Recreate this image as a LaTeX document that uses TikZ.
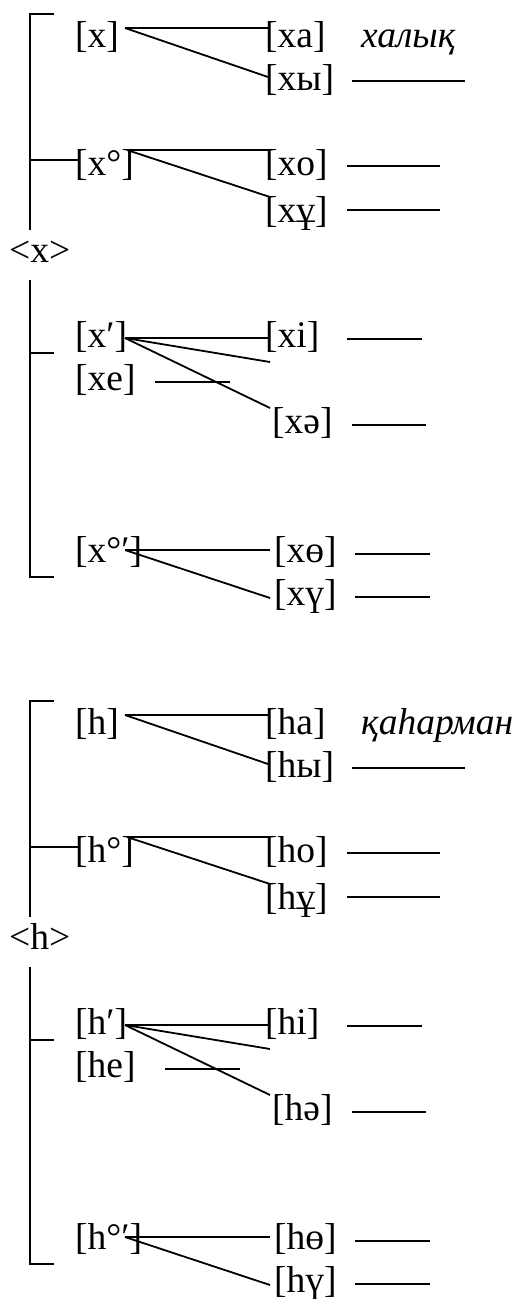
\documentclass[tikz,border=0pt]{standalone}
\usepackage{fontspec}
\setmainfont{Liberation Serif}
\usetikzlibrary{calc}
\tikzset{
  lab/.style={anchor=base west,inner sep=0pt,font=\fontsize{37.5}{44}\selectfont},
  wrd/.style={anchor=base west,inner sep=0pt,font=\fontsize{37.5}{44}\selectfont\itshape},
  ln/.style={line width=1.8pt},
  blank/.style={line width=1.8pt}
}
% #1 name prefix, #2 consonant, #3 word, #4 x of the line after [.e]
\newcommand\mkhalf[4]{%
  % bracket
  \draw[ln] (54,14) -- (30,14) -- (30,230);
  \draw[ln] (30,160) -- (78,160);
  \draw[ln] (30,280) -- (30,577) -- (54,577);
  \draw[ln] (30,353) -- (54,353);
  % nodes
  \node[lab] (#1c)   at (75,47.5)   {[#2]};
  \node[lab] (#1a)   at (265,47.5)  {[#2а]};
  \node[wrd] (#1w)   at (361,47)    {#3};
  \node[lab] (#1y)   at (265,90.5)  {[#2ы]};
  \node[lab] (#1r)   at (75,175.5)  {[#2°]};
  \node[lab] (#1o)   at (265,175.5) {[#2о]};
  \node[lab] (#1u)   at (265,222.5) {[#2ұ]};
  \node[lab] (#1ang) at (9,262)     {<#2>};
  \node[lab] (#1p)   at (75,347.5)  {[#2′]};
  \node[lab] (#1i)   at (265,347.5) {[#2і]};
  \node[lab] (#1e)   at (75,390.5)  {[#2е]};
  \node[lab] (#1s)   at (272,433.5) {[#2ә]};
  \node[lab] (#1rp)  at (75,562.5)  {[#2°′]};
  \node[lab] (#1bo)  at (274,562.5) {[#2ө]};
  \node[lab] (#1ue)  at (274,605.5) {[#2ү]};
  \coordinate (#1free) at ($(#1i.base west)+(5,14.5)$);
  % connectors
  \draw[ln] ($(#1c.base west)+(50,-19.5)$) -- ($(#1a.base west)+(3,-19.5)$);
  \draw[ln] ($(#1c.base west)+(50,-19.5)$) -- ($(#1y.base west)+(3,-13.5)$);
  \draw[ln] ($(#1r.base west)+(52,-25.5)$) -- ($(#1o.base west)+(5,-25.5)$);
  \draw[ln] ($(#1r.base west)+(52,-25.5)$) -- ($(#1u.base west)+(5,-25.5)$);
  \draw[ln] ($(#1p.base west)+(50,-9.5)$) -- ($(#1i.base west)+(3,-9.5)$);
  \draw[ln] ($(#1p.base west)+(50,-9.5)$) -- (#1free);
  \draw[ln] ($(#1p.base west)+(50,-9.5)$) -- ($(#1s.base west)+(-2,-25.5)$);
  \draw[ln] ($(#1rp.base west)+(50,-12.5)$) -- ($(#1bo.base west)+(-4,-12.5)$);
  \draw[ln] ($(#1rp.base west)+(50,-12.5)$) -- ($(#1ue.base west)+(-4,-7.5)$);
  % blank lines
  \draw[blank] ($(#1y.base west)+(87,-9.5)$) -- +(113,0);
  \draw[blank] ($(#1o.base west)+(82,-9.5)$) -- +(93,0);
  \draw[blank] ($(#1u.base west)+(82,-12.5)$) -- +(93,0);
  \draw[blank] ($(#1i.base west)+(82,-8.5)$) -- +(75,0);
  \draw[blank] (#4,382) -- +(75,0);
  \draw[blank] ($(#1s.base west)+(80,-8.5)$) -- +(74,0);
  \draw[blank] ($(#1bo.base west)+(81,-8.5)$) -- +(75,0);
  \draw[blank] ($(#1ue.base west)+(81,-8.5)$) -- +(75,0);
}
\begin{document}
\begin{tikzpicture}[x=1pt,y=-1pt]
\useasboundingbox (0,0) rectangle (518,1299);
\begin{scope}
  \mkhalf{x}{x}{халық}{155}
\end{scope}
\begin{scope}[shift={(0,687)}]
  \mkhalf{h}{h}{қаһарман}{165}
\end{scope}
\end{tikzpicture}
\end{document}
